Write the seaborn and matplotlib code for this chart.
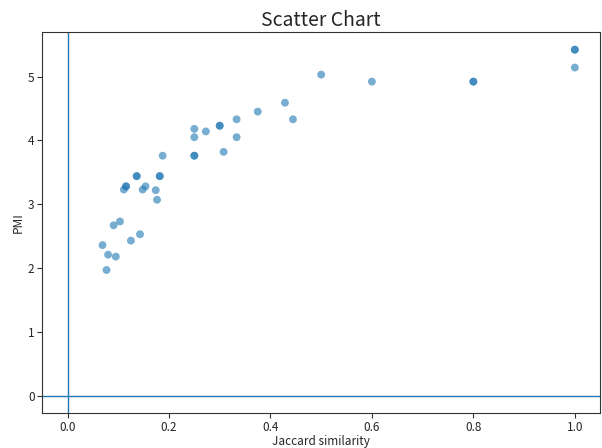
import matplotlib
matplotlib.use("Agg")
import matplotlib.pyplot as plt
import seaborn as sns
import pandas as pd

jaccard = [0.5, 0.4286, 0.4444, 0.375, 0.3333, 0.3333, 0.30, 0.30, 0.2727,
           0.25, 0.25, 0.25, 0.25, 0.3077, 0.1875, 0.1364, 0.1364, 0.1818, 0.1818,
           0.1154, 0.1154, 0.1111, 0.1481, 0.1538, 0.1739, 0.1765,
           0.0909, 0.1034, 0.1429, 0.125, 0.0690, 0.0800, 0.0952, 0.0769,
           0.6, 0.8, 0.8, 1.0, 1.0, 1.0]
pmi = [5.03, 4.59, 4.33, 4.45, 4.33, 4.05, 4.23, 4.23, 4.14,
       4.18, 4.05, 3.76, 3.76, 3.82, 3.76, 3.44, 3.44, 3.44, 3.44,
       3.28, 3.28, 3.23, 3.23, 3.28, 3.22, 3.07,
       2.67, 2.73, 2.53, 2.43, 2.36, 2.21, 2.18, 1.97,
       4.92, 4.92, 4.92, 5.42, 5.42, 5.14]

df = pd.DataFrame({"Jaccard similarity": jaccard, "PMI": pmi})

sns.set_style("ticks")
plt.rcParams['font.family'] = ['Noto Sans CJK KR', 'DejaVu Sans']

fig = plt.figure(figsize=(6.02, 4.48), dpi=100)
ax = fig.add_axes([0.07, 0.078, 0.927, 0.851])
ax.axhline(0, color="C0", linewidth=1)
ax.axvline(0, color="C0", linewidth=1)
sns.scatterplot(data=df, x="Jaccard similarity", y="PMI", ax=ax,
                color="C0", alpha=0.6, s=32, edgecolor="none")
ax.set_xlim(-0.05, 1.05)
ax.set_ylim(-0.27, 5.70)
ax.set_title("Scatter Chart", fontsize=14, pad=4)
ax.set_xlabel("Jaccard similarity", fontsize=8.5, labelpad=1)
ax.set_ylabel("PMI", fontsize=8.5, labelpad=2)
ax.tick_params(labelsize=8.5, length=3.5, pad=2, width=0.8, color="#333333")
for s in ax.spines.values():
    s.set_visible(True)
    s.set_color("#333333")
fig.savefig("out.png", dpi=100)
